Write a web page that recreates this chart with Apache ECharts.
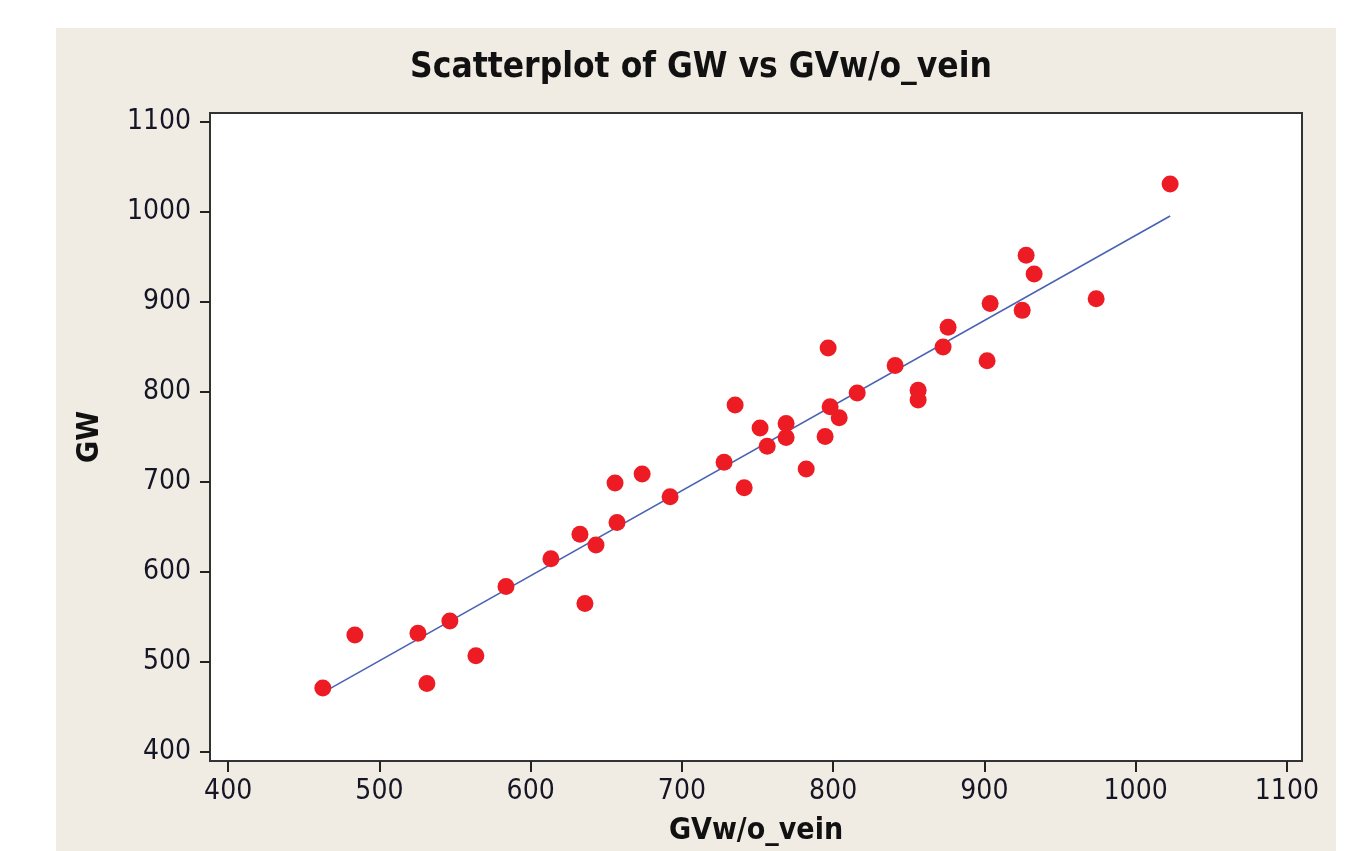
<!DOCTYPE html>
<html>
<head>
<meta charset="utf-8">
<script src="https://cdn.jsdelivr.net/npm/echarts@6/dist/echarts.min.js"></script>
<style>
  html, body { margin: 0; padding: 0; background: #ffffff; overflow: hidden; }
  #bg { position: absolute; left: 56px; top: 28px; width: 1280px; height: 823px; background: #f0ece3; }
  #chart { position: absolute; left: 0; top: 0; width: 1349px; height: 851px; }
</style>
</head>
<body>
<div id="bg"></div>
<div id="chart"></div>
<script>
// Data
const gvWithoutVein = [462.6, 483.8, 525.5, 531.4, 546.6, 563.8, 583.7, 613.4, 632.6, 635.9,
  643.2, 655.8, 657.1, 673.7, 692.2, 727.9, 735.2, 741.2, 751.7, 756.4,
  768.9, 768.9, 782.2, 794.7, 796.7, 798.0, 804.0, 815.9, 841.0, 856.2,
  856.2, 872.7, 876.0, 901.8, 903.8, 925.0, 927.6, 932.9, 973.9, 1022.8];
const gw = [471, 530, 532, 476, 545.5, 507, 584, 614.6, 642, 565,
  630, 699, 655, 709, 683.7, 722, 785.6, 693.5, 760, 739.6,
  765, 749.5, 714.4, 750.5, 849, 783.5, 771.4, 798.9, 829.5, 802,
  791, 850, 872, 834.8, 898.4, 890.7, 952, 931, 903.7, 1031];
// Fitted regression line endpoints
const fitX = [462.6, 1022.8];
const fitY = [466, 995.5];
// Tick labels
const xTicks = [400, 500, 600, 700, 800, 900, 1000, 1100];
const yTicks = [400, 500, 600, 700, 800, 900, 1000, 1100];
const titleText = 'Scatterplot of GW vs GVw/o_vein';
const xName = 'GVw/o_vein';
const yName = 'GW';

const FONT = "Tahoma, 'DejaVu Sans Condensed', 'DejaVu Sans', sans-serif";
const chart = echarts.init(document.getElementById('chart'), null, { renderer: 'canvas', width: 1349, height: 851 });

const scatterData = gvWithoutVein.map((x, i) => [x, gw[i]]);
const fitData = fitX.map((x, i) => [x, fitY[i]]);
const plain = v => String(v);

chart.setOption({
  backgroundColor: 'transparent',
  animation: false,
  title: {
    text: titleText,
    left: 696,
    textAlign: 'center',
    top: 45,
    textStyle: { fontFamily: FONT, fontSize: 35, fontWeight: 'bold', color: '#111' }
  },
  grid: {
    left: 210, top: 113, width: 1092, height: 657,
    show: true, backgroundColor: '#ffffff', borderColor: '#333', borderWidth: 2
  },
  xAxis: {
    type: 'value', min: 388, max: 1110,
    name: xName, nameLocation: 'middle', nameGap: 55,
    nameTextStyle: { fontFamily: FONT, fontSize: 30, fontWeight: 'bold', color: '#111' },
    axisLine: { show: true, lineStyle: { color: '#333', width: 2 } },
    axisTick: { show: true, length: 11, lineStyle: { color: '#222', width: 2 }, customValues: xTicks },
    axisLabel: { fontFamily: FONT, fontSize: 28, color: '#151525', margin: 17, customValues: xTicks, formatter: plain },
    splitLine: { show: false }
  },
  yAxis: {
    type: 'value', min: 390, max: 1110,
    name: yName, nameLocation: 'middle', nameGap: 105, nameRotate: 90,
    nameTextStyle: { fontFamily: FONT, fontSize: 30, fontWeight: 'bold', color: '#111' },
    axisLine: { show: true, lineStyle: { color: '#333', width: 2 } },
    axisTick: { show: true, length: 10, lineStyle: { color: '#222', width: 2 }, customValues: yTicks },
    axisLabel: { fontFamily: FONT, fontSize: 28, color: '#151525', margin: 19, customValues: yTicks, formatter: plain },
    splitLine: { show: false }
  },
  series: [
    {
      type: 'line', data: fitData, symbol: 'none', silent: true,
      lineStyle: { color: '#4a62b3', width: 1.6 }, z: 2
    },
    {
      type: 'scatter', data: scatterData, symbol: 'circle', symbolSize: 17,
      itemStyle: { color: '#ed1c24', opacity: 1 }, z: 3
    }
  ]
});
</script>
</body>
</html>
